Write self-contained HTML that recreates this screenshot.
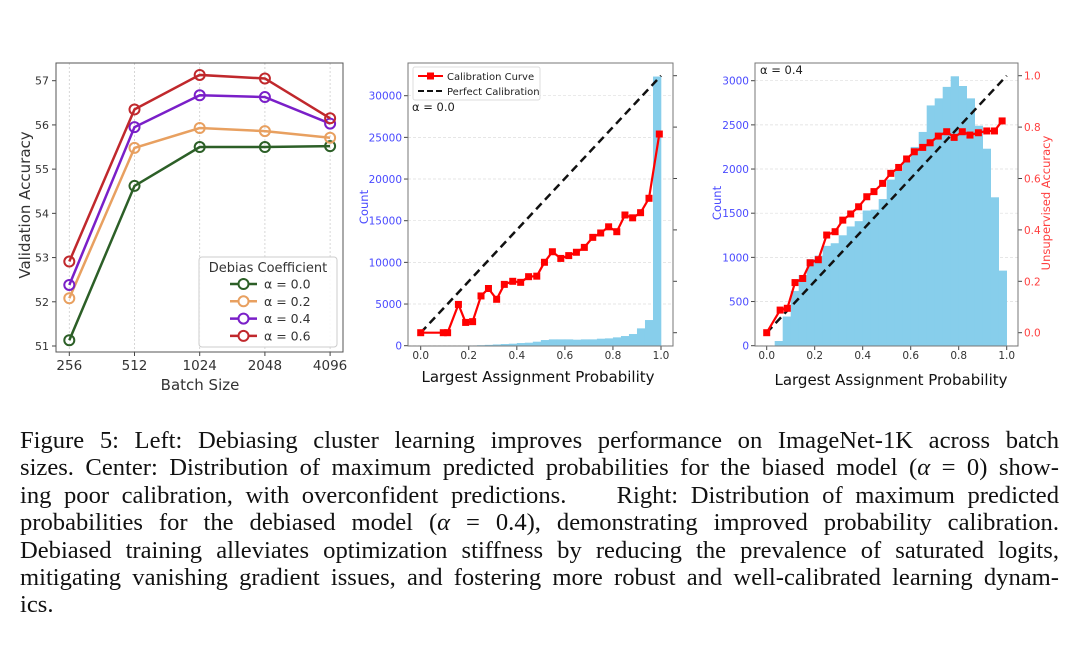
<!DOCTYPE html>
<html><head><meta charset="utf-8">
<style>
html,body{margin:0;padding:0;background:#fff;width:1080px;height:654px;overflow:hidden}
svg text{font-family:"DejaVu Sans","Liberation Sans",sans-serif}
#cap{position:absolute;left:20px;top:427px;width:1039px;font-family:"Liberation Serif",serif;font-size:24.6px;line-height:27.4px;color:#111}
#cap div{text-align:justify;text-align-last:justify;white-space:nowrap}
#cap div.last{text-align-last:left}
</style></head><body>
<svg id="fig" width="1080" height="420" style="position:absolute;left:0;top:0"></svg>
<div id="cap">
<div>Figure 5: Left: Debiasing cluster learning improves performance on ImageNet-1K across batch</div>
<div>sizes. Center: Distribution of maximum predicted probabilities for the biased model (<i>α</i> = 0) show-</div>
<div>ing poor calibration, with overconfident predictions. &nbsp;&nbsp; Right: Distribution of maximum predicted</div>
<div>probabilities for the debiased model (<i>α</i> = 0.4), demonstrating improved probability calibration.</div>
<div>Debiased training alleviates optimization stiffness by reducing the prevalence of saturated logits,</div>
<div>mitigating vanishing gradient issues, and fostering more robust and well-calibrated learning dynam-</div>
<div class="last">ics.</div>
</div>
<script>
// ---- Left chart data
const batchSizes = ["256","512","1024","2048","4096"];
const alphaLabels = ["α = 0.0","α = 0.2","α = 0.4","α = 0.6"];
const acc00 = [51.13,54.62,55.5,55.5,55.52];
const acc02 = [52.08,55.48,55.93,55.86,55.71];
const acc04 = [52.38,55.95,56.67,56.63,56.03];
const acc06 = [52.91,56.35,57.13,57.05,56.15];
const leftYTicks = [51,52,53,54,55,56,57];
// ---- Center chart data
const probTicks = [0,0.2,0.4,0.6,0.8,1.0];
const countTicksC = [0,5000,10000,15000,20000,25000,30000];
const histC = [10,10,10,10,10,10,30,60,100,150,200,240,320,360,480,680,760,760,760,720,760,760,840,880,1000,1160,1400,2080,3080,32300];
const calXC = [0,0.094,0.112,0.157,0.187,0.216,0.251,0.282,0.316,0.348,0.383,0.416,0.449,0.483,0.515,0.548,0.583,0.616,0.648,0.681,0.716,0.749,0.782,0.816,0.85,0.882,0.915,0.95,0.993];
const calYC = [0,0,0,0.11,0.04,0.043,0.143,0.172,0.13,0.188,0.2,0.196,0.218,0.22,0.274,0.315,0.289,0.3,0.313,0.332,0.371,0.388,0.412,0.393,0.458,0.447,0.467,0.523,0.773];
// ---- Right chart data
const countTicksR = [0,500,1000,1500,2000,2500,3000];
const accTicksR = [0,0.2,0.4,0.6,0.8,1.0];
const histR = [0,53,330,620,800,980,1020,1130,1160,1250,1350,1410,1530,1540,1660,1880,1980,2100,2250,2420,2720,2800,2930,3050,2940,2800,2490,2230,1680,850];
const calXR = [0,0.056,0.086,0.118,0.15,0.181,0.215,0.25,0.285,0.317,0.35,0.383,0.417,0.447,0.483,0.517,0.55,0.583,0.615,0.65,0.681,0.715,0.75,0.781,0.815,0.847,0.882,0.917,0.949,0.981];
const calYR = [0,0.088,0.095,0.195,0.211,0.272,0.284,0.38,0.393,0.438,0.462,0.49,0.529,0.549,0.581,0.62,0.643,0.676,0.704,0.721,0.739,0.765,0.782,0.76,0.782,0.769,0.778,0.785,0.785,0.824];

const svg=document.getElementById('fig');const NS="http://www.w3.org/2000/svg";
function mk(tag,attrs,parent,name,txt){const e=document.createElementNS(NS,tag);for(const k in attrs)e.setAttribute(k,attrs[k]);


if(txt!==undefined)e.textContent=txt;(parent||svg).appendChild(e);return e;}
function lin(d0,d1,r0,r1){return v=>r0+(v-d0)*(r1-r0)/(d1-d0);}

// ================= LEFT =================
(function(){
const g=mk('g',{},svg,'left-chart');
const L=56,R=343,T=63,B=352;
const x=i=>69.3+i*65.2, y=lin(51,57,346,80.7);
batchSizes.forEach((b,i)=>{mk('line',{x1:x(i),x2:x(i),y1:T,y2:B,stroke:'#ccc','stroke-dasharray':'2,2','stroke-width':0.8},g,'x-gridline');
mk('line',{x1:x(i),x2:x(i),y1:B,y2:B+4,stroke:'#444'},g,'x-tick');
mk('text',{x:x(i),y:B+18,'font-size':13.5,'text-anchor':'middle',fill:'#333'},g,'x-tick-label',b);});
leftYTicks.forEach(v=>{mk('line',{x1:L-4,x2:L,y1:y(v),y2:y(v),stroke:'#444'},g,'y-tick');
mk('text',{x:L-7,y:y(v)+4,'font-size':11,'text-anchor':'end',fill:'#333'},g,'y-tick-label',String(v));});
mk('rect',{x:L,y:T,width:R-L,height:B-T,fill:'none',stroke:'#555','stroke-width':1},g,'plot-frame');
mk('text',{x:200,y:390,'font-size':15,'text-anchor':'middle',fill:'#333'},g,'x-axis-title','Batch Size');
mk('text',{x:0,y:0,'font-size':15,'text-anchor':'middle',fill:'#333',transform:'translate(30,205) rotate(-90)'},g,'y-axis-title','Validation Accuracy');
const series=[acc00,acc02,acc04,acc06],cols=['#2c5f27','#e8a060','#7a1fc8','#c0282c'];
series.forEach((s,k)=>{const sg=mk('g',{},g,'series-alpha-'+k);
mk('polyline',{points:s.map((v,i)=>x(i)+','+y(v)).join(' '),fill:'none',stroke:cols[k],'stroke-width':2.5},sg,'series-line');
s.forEach((v,i)=>mk('circle',{cx:x(i),cy:y(v),r:5,fill:'none',stroke:cols[k],'stroke-width':2},sg,'data-point'));});
const lg=mk('g',{},g,'legend');
mk('rect',{x:199,y:257,width:138,height:90,fill:'#fff','fill-opacity':0.85,stroke:'#ccc',rx:3},lg,'legend-box');
mk('text',{x:268,y:272,'font-size':13,'text-anchor':'middle',fill:'#333'},lg,'legend-title','Debias Coefficient');
alphaLabels.forEach((t,k)=>{const yy=284+k*17.3;
mk('line',{x1:230,x2:257,y1:yy,y2:yy,stroke:cols[k],'stroke-width':2.5},lg,'legend-line');
mk('circle',{cx:243.5,cy:yy,r:5,fill:'#fff',stroke:cols[k],'stroke-width':2},lg,'legend-marker');
mk('text',{x:264,y:yy+4.5,'font-size':12.5,fill:'#333'},lg,'legend-entry',t);});
})();

// ================= CENTER / RIGHT helper =================
function calChart(o){
const g=mk('g',{},svg,o.name);
const {L,R,T,B}=o;
const x=lin(0,1,o.x0,o.x1), yc=lin(0,o.cmax,B-0.3,o.cTop), ya=lin(0,1,332.7,75.7);
o.cTicks.forEach(v=>{mk('line',{x1:L,x2:R,y1:yc(v),y2:yc(v),stroke:'#ddd','stroke-dasharray':'3,2','stroke-width':0.7},g,'y-gridline');
mk('line',{x1:L-4,x2:L,y1:yc(v),y2:yc(v),stroke:'#444'},g,'y-tick');
mk('text',{x:L-6,y:yc(v)+4,'font-size':10.5,'text-anchor':'end',fill:'#4a4aff'},g,'y-tick-label',String(v));});
const n=o.hist.length;
o.hist.forEach((c,i)=>{const a=x(i/n),b=x((i+1)/n);if(c>0)mk('rect',{x:a,y:yc(c),width:b-a+0.3,height:yc(0)-yc(c),fill:'#87ceeb'},g,'histogram-bar');});
probTicks.forEach(v=>{mk('line',{x1:x(v),x2:x(v),y1:B,y2:B+4,stroke:'#444'},g,'x-tick');
mk('text',{x:x(v),y:B+13,'font-size':10.5,'text-anchor':'middle',fill:'#333'},g,'x-tick-label',v.toFixed(1));});
accTicksR.forEach(v=>{mk('line',{x1:R,x2:R+4,y1:ya(v),y2:ya(v),stroke:'#444'},g,'right-y-tick');
if(o.rightLabels)mk('text',{x:R+6,y:ya(v)+4,'font-size':10.5,fill:'#ff4040'},g,'right-y-tick-label',v.toFixed(1));});
mk('line',{x1:x(0),y1:ya(0),x2:x(1),y2:ya(1),stroke:'#111','stroke-width':2.5,'stroke-dasharray':'8,5'},g,'perfect-calibration-line');
mk('polyline',{points:o.cx.map((v,i)=>x(v)+','+ya(o.cy[i])).join(' '),fill:'none',stroke:'#ff0000','stroke-width':2.2},g,'calibration-curve');
o.cx.forEach((v,i)=>mk('rect',{x:x(v)-3.5,y:ya(o.cy[i])-3.5,width:7,height:7,fill:'#ff0000'},g,'calibration-point'));
mk('rect',{x:L,y:T,width:R-L,height:B-T,fill:'none',stroke:'#777','stroke-width':1},g,'plot-frame');
mk('text',{x:o.xlc,y:o.xly,'font-size':15,'text-anchor':'middle',fill:'#111'},g,'x-axis-title','Largest Assignment Probability');
mk('text',{x:0,y:0,'font-size':11.5,'text-anchor':'middle',fill:'#4a4aff',transform:`translate(${o.cntX},${o.cntY}) rotate(-90)`},g,'y-axis-title','Count');
mk('text',{x:o.ax,y:o.ay,'font-size':11.5,fill:'#222'},g,'alpha-annotation',o.alpha);
return {g,x,ya};
}
// CENTER
(function(){
const c=calChart({name:'center-chart',L:408,R:673,T:63,B:346,x0:420.7,x1:661,cmax:30000,cTop:95.7,cTicks:countTicksC,hist:histC,cx:calXC,cy:calYC,rightLabels:false,xlc:538,xly:382,cntX:368,cntY:207,ax:412,ay:111,alpha:'α = 0.0'});
const lg=mk('g',{},c.g,'legend');
mk('rect',{x:413,y:67,width:127,height:33,fill:'#fff',stroke:'#ddd',rx:2},lg,'legend-box');
mk('line',{x1:418,x2:443,y1:76,y2:76,stroke:'#ff0000','stroke-width':2},lg,'legend-line');
mk('rect',{x:427,y:72.5,width:7,height:7,fill:'#ff0000'},lg,'legend-marker');
mk('text',{x:447,y:80,'font-size':10,fill:'#222'},lg,'legend-entry','Calibration Curve');
mk('line',{x1:418,x2:443,y1:91,y2:91,stroke:'#111','stroke-width':2,'stroke-dasharray':'6,3'},lg,'legend-line');
mk('text',{x:447,y:95,'font-size':10,fill:'#222'},lg,'legend-entry','Perfect Calibration');
})();
// RIGHT
(function(){
const c=calChart({name:'right-chart',L:755,R:1018,T:63,B:346,x0:766.7,x1:1006.7,cmax:3000,cTop:80.7,cTicks:countTicksR,hist:histR,cx:calXR,cy:calYR,rightLabels:true,xlc:891,xly:385,cntX:721,cntY:203,ax:760,ay:74,alpha:'α = 0.4'});
mk('text',{x:0,y:0,'font-size':11.5,'text-anchor':'middle',fill:'#ff4040',transform:'translate(1050,203) rotate(-90)'},c.g,'right-y-axis-title','Unsupervised Accuracy');
})();
</script>
</body></html>
